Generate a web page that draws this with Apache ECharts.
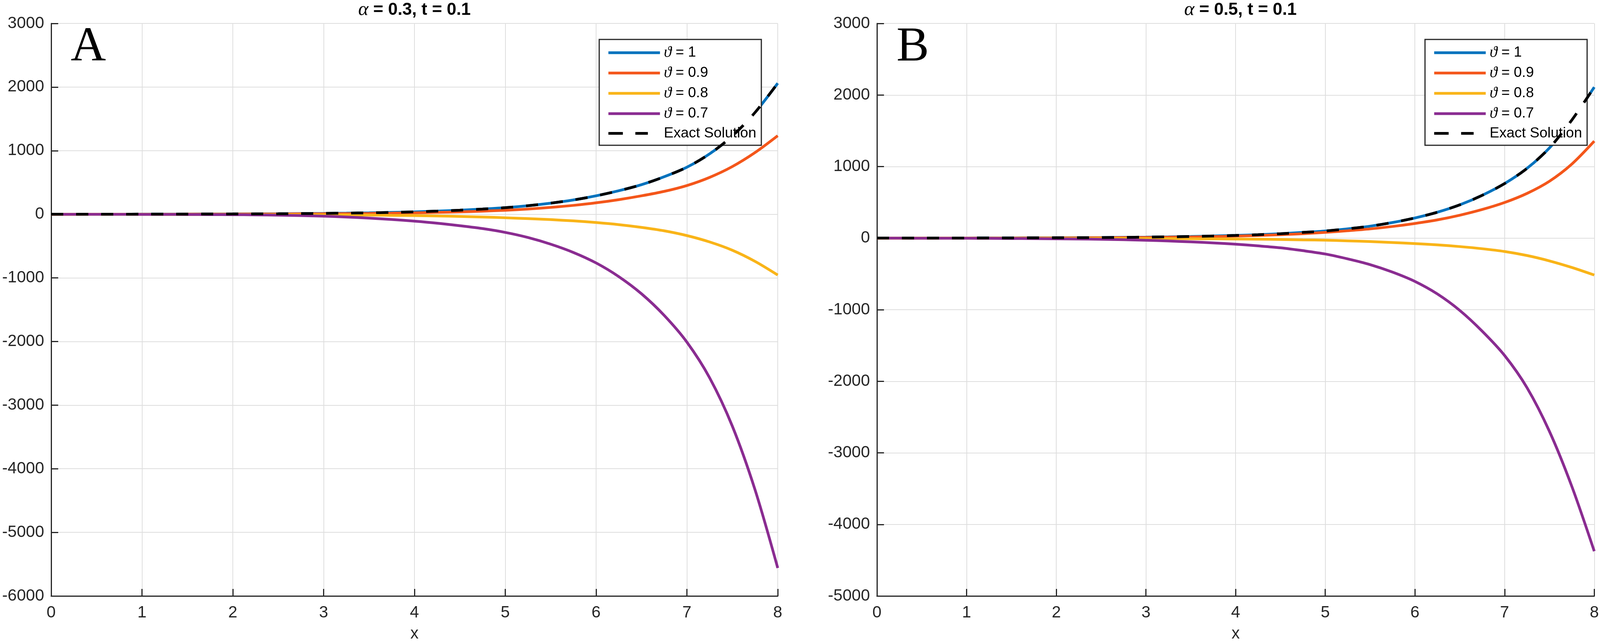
<!DOCTYPE html>
<html><head><meta charset="utf-8">
<script src="https://cdn.jsdelivr.net/npm/echarts@6/dist/echarts.min.js"></script>
<style>html,body{margin:0;padding:0;background:#fff;overflow:hidden;width:100%;height:100%;} #c{width:100vw;height:100vh;}</style>
</head><body><div id="c"></div><script>
// ---- data ----
const xValues = [0,0.25,0.5,0.75,1,1.25,1.5,1.75,2,2.25,2.5,2.75,3,3.25,3.5,3.75,4,4.25,4.5,4.75,5,5.25,5.5,5.75,6,6.25,6.5,6.75,7,7.25,7.5,7.75,8];
const seriesNames = ['ϑ = 1','ϑ = 0.9','ϑ = 0.8','ϑ = 0.7','Exact Solution'];
const panelLetters = ['A','B'];
const panelAlphas = ['0.3','0.5'];
const panelT = '0.1';
const xTicks = [0,1,2,3,4,5,6,7,8];
const yTicksA = [-6000,-5000,-4000,-3000,-2000,-1000,0,1000,2000,3000];
const yTicksB = [-5000,-4000,-3000,-2000,-1000,0,1000,2000,3000];

const aTheta1  = [1,1,1,1.5,2, 2.5,3,4,5, 6.5,8,11,14, 18,23,30,38, 50,64,82,104, 135,175,225,290, 370,465,590,740, 950,1230,1600,2060];
const aTheta09 = [0,0.2,0.5,0.7,1, 1.5,2,2.5,3, 4,5,6.5,8, 11,14,18,23, 30,38,49,63, 82,108,140,180, 230,290,360,452, 580,750,970,1235];
const aTheta08 = [0,-0.2,-0.5,-0.7,-1, -1.5,-2,-2.5,-3, -4,-5,-6.5,-8, -10,-13,-17,-21, -27,-34,-43,-55, -68,-84,-104,-130, -163,-206,-260,-335, -435,-565,-740,-955];
const aTheta07 = [0,-0.2,-0.5,-1,-1.5, -2,-3,-4.5,-6, -9,-14,-21,-30, -43,-60,-82,-108, -140,-180,-225,-285, -365,-470,-600,-765, -980,-1250,-1590,-2010, -2570,-3330,-4330,-5560];
const aExact   = [1,1,1,1.5,2, 2.5,3,4,5, 6.5,8,11,14, 18,23,30,38, 50,64,82,104, 135,175,225,290, 370,465,590,740, 950,1230,1600,2060];

const bTheta1  = [1,1,1,1.5,2, 2.5,3,4,5, 6.5,8,11,14, 18,23,30,38, 48,62,80,100, 130,167,218,282, 362,465,598,762, 975,1260,1650,2110];
const bTheta09 = [0,0.2,0.5,0.7,1, 1.5,2,2.5,3, 4.5,6,8,10, 13,17,22,28, 37,48,62,80, 103,129,163,205, 255,320,400,498, 625,795,1035,1355];
const bTheta08 = [0,-0.1,-0.3,-0.4,-0.6, -0.8,-1,-1.5,-2, -2.5,-3,-4,-5, -6.5,-8,-10,-12, -15,-19,-24,-29, -38,-48,-61,-76, -94,-118,-148,-187, -243,-318,-410,-516];
const bTheta07 = [0,-0.5,-1,-1.5,-2, -3,-5,-7,-9, -12,-16,-22,-30, -40,-52,-67,-85, -108,-135,-175,-222, -290,-370,-475,-605, -780,-1010,-1300,-1640, -2090,-2700,-3470,-4375];
const bExact   = [1,1,1,1.5,2, 2.5,3,4,5, 6.5,8,11,14, 18,23,30,38, 48,62,80,100, 130,167,218,282, 362,465,598,762, 975,1260,1650,2110];

// ---- styling ----
const colors = ['#0072BD','#F4561A','#F9B418','#8A2C91','#000000'];
const axisColor = '#262626';
const gridColor = '#dedede';
const sansFont = 'Liberation Sans, Arial, sans-serif';
const serifFont = 'Liberation Serif, Times New Roman, serif';

const grids = [
  {left:131, top:60, width:1860, height:1468},
  {left:2245, top:60, width:1861, height:1468}
];
const panelData = [
  [aTheta1,aTheta09,aTheta08,aTheta07,aExact],
  [bTheta1,bTheta09,bTheta08,bTheta07,bExact]
];
const yTicksAll = [yTicksA, yTicksB];

function pairs(ys){ return xValues.map((x,i)=>[x, ys[i]]); }

const xAxes = [], yAxes = [], series = [], legends = [], graphics = [];
grids.forEach((g, p) => {
  xAxes.push({
    type:'value', gridIndex:p, min:xTicks[0], max:xTicks[xTicks.length-1], interval:1,
    name:'x', nameLocation:'middle', nameGap:76,
    nameTextStyle:{fontFamily:sansFont, fontSize:42, color:axisColor},
    axisLine:{show:true, onZero:false, lineStyle:{color:axisColor, width:3}},
    axisTick:{show:true, inside:true, length:18, lineStyle:{color:axisColor, width:3}},
    axisLabel:{fontFamily:sansFont, fontSize:42, color:axisColor, margin:22, formatter:v=>String(v)},
    splitLine:{show:true, lineStyle:{color:gridColor, width:2}}
  });
  const yt = yTicksAll[p];
  yAxes.push({
    type:'value', gridIndex:p, min:yt[0], max:yt[yt.length-1], interval:1000,
    axisLine:{show:true, onZero:false, lineStyle:{color:axisColor, width:3}},
    axisTick:{show:true, inside:true, length:18, lineStyle:{color:axisColor, width:3}},
    axisLabel:{fontFamily:sansFont, fontSize:42, color:axisColor, margin:18, formatter:v=>String(v)},
    splitLine:{show:true, lineStyle:{color:gridColor, width:2}}
  });
  panelData[p].forEach((ys, k) => {
    const isExact = k === 4;
    series.push({
      name: seriesNames[k], type:'line', xAxisIndex:p, yAxisIndex:p,
      data: pairs(ys), symbol:'none', smooth:0.3,
      color: colors[k], z: 2 + k,
      lineStyle:{color:colors[k], width:7, type: isExact ? [31,33] : 'solid', cap:'butt'},
      emphasis:{disabled:true}, silent:true, animation:false
    });
  });
  legends.push({
    show:true, orient:'vertical', left: g.left + 1403, top: 101,
    data: seriesNames.map(n => n === 'Exact Solution'
      ? {name:n, lineStyle:{type:[37,32,32,60], width:7}}
      : {name:n}),
    padding:[14,13,12,20], itemWidth:132, itemHeight:34, itemGap:12,
    backgroundColor:'#ffffff', borderColor:axisColor, borderWidth:3, borderRadius:0,
    itemStyle:{color:'rgba(0,0,0,0)', borderWidth:0, opacity:0},
    lineStyle:{width:7},
    textStyle:{fontFamily:sansFont, fontSize:37, color:'#000', lineHeight:34, padding:[0,0,0,5],
      rich:{th:{fontFamily:serifFont, fontStyle:'italic', fontSize:40, color:'#000'}}},
    formatter: n => n.indexOf('ϑ') === 0 ? '{th|ϑ}' + n.slice(1) : n,
    selectedMode:false
  });
  graphics.push({
    type:'text', x: g.left + g.width/2, y: 26, z:10,
    style:{
      text: '{al|α} = ' + panelAlphas[p] + ', t = ' + panelT,
      align:'center', verticalAlign:'middle',
      font: 'bold 44px ' + sansFont, fill:'#000',
      rich:{al:{fontFamily:serifFont, fontStyle:'italic', fontWeight:'normal', fontSize:50, fill:'#000'}}
    }
  });
  graphics.push({
    type:'text', x: g.left + 50, y: 122, z:10,
    style:{text: panelLetters[p], align:'left', verticalAlign:'middle', font:'125px ' + serifFont, fill:'#000'}
  });
});

const chart = echarts.init(document.getElementById('c'), null, {renderer:'canvas'});
chart.setOption({
  backgroundColor:'#ffffff',
  animation:false,
  grid: grids.map(g => Object.assign({containLabel:false}, g)),
  xAxis: xAxes, yAxis: yAxes, series: series, legend: legends,
  graphic: graphics
});
</script></body></html>
